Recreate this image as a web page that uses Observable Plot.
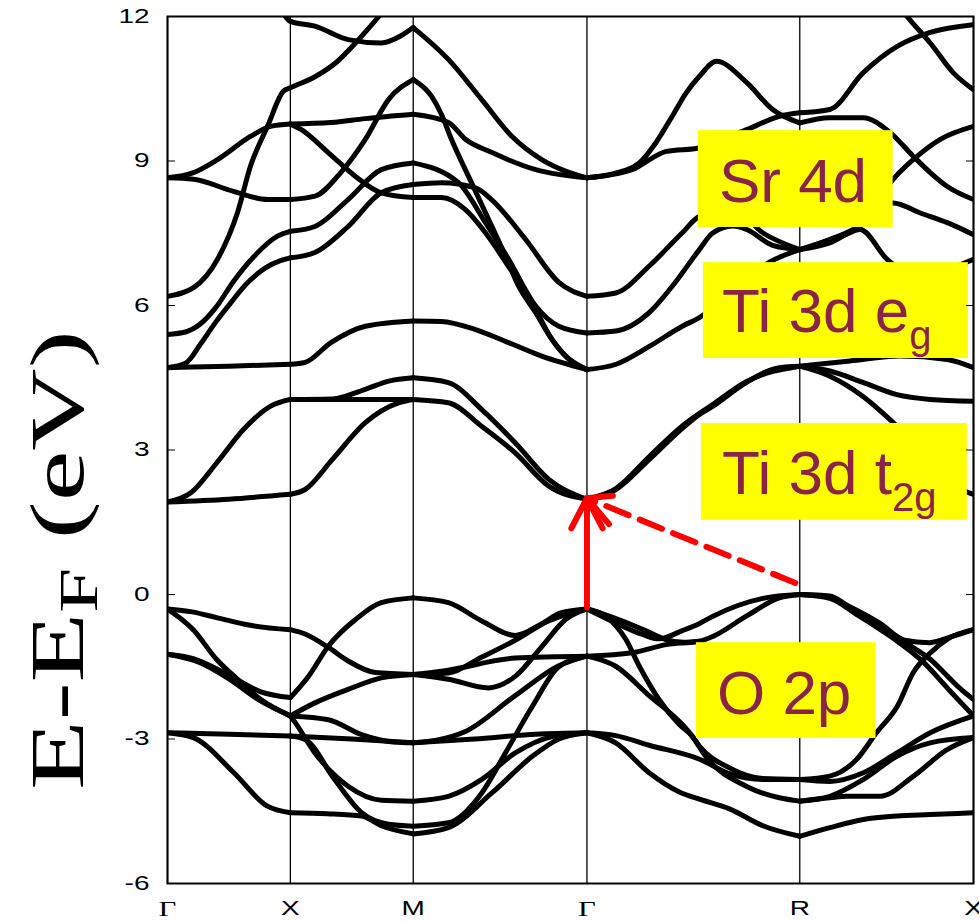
<!DOCTYPE html>
<html><head><meta charset="utf-8">
<script src="https://cdn.jsdelivr.net/npm/d3@7"></script>
<script src="https://cdn.jsdelivr.net/npm/@observablehq/plot@0.6"></script>
<style>body{margin:0;background:#fff}svg{display:block}</style>
</head><body><div id="chart"></div>
<script>
// high-symmetry points along the k-path (path length units)
const symLabels = ["Γ", "X", "M", "Γ", "R", "X"];
const symK = [0, 1, 2, 3.414, 5.146, 6.56];
const yTicks = [-6, -3, 0, 3, 6, 9, 12];

// O 2p valence bands: [k, E(eV)]
const bandsO2p = [
  [[0,-0.30],[0.2,-0.36],[0.4,-0.48],[0.675,-0.64],[1,-0.73]],
  [[0,-0.30],[0.21,-0.73],[0.40,-1.35],[0.57,-1.76],[0.76,-2.18],[1,-2.52]],
  [[0,-1.24],[0.21,-1.33],[0.49,-1.66],[0.76,-2.02],[1,-2.14]],
  [[0,-1.24],[0.25,-1.40],[0.5,-1.75],[0.75,-2.2],[1,-2.52]],
  [[0,-2.87],[0.5,-2.90],[1,-2.94]],
  [[0,-2.87],[0.21,-2.97],[0.54,-3.70],[0.81,-4.39],[1,-4.53]],
  [[1,-0.73],[1.12,-0.82],[1.31,-1.1],[1.47,-1.38],[1.69,-1.62],[2,-1.66]],
  [[1,-2.14],[1.15,-1.69],[1.31,-1.07],[1.53,-0.52],[1.74,-0.17],[2,-0.07]],
  [[1,-2.52],[1.2,-2.25],[1.47,-1.97],[1.74,-1.73],[2,-1.66]],
  [[1,-2.52],[1.31,-2.6],[1.58,-2.91],[1.8,-3.05],[2,-3.08]],
  [[1,-2.94],[1.5,-3.0],[2,-3.08]],
  [[1,-2.52],[1.04,-2.66],[1.2,-3.29],[1.47,-3.98],[1.74,-4.27],[2,-4.29]],
  [[1,-2.94],[1.12,-3.01],[1.36,-3.84],[1.58,-4.53],[1.8,-4.77],[2,-4.81]],
  [[1,-4.53],[1.3,-4.55],[1.58,-4.6],[1.74,-4.8],[2,-4.97]],
  [[2,-0.07],[2.286,-0.17],[2.558,-0.55],[2.83,-0.85],[3.05,-0.6],[3.2,-0.38],[3.414,-0.30]],
  [[2,-1.66],[2.286,-1.63],[2.558,-1.3],[2.83,-0.95],[3.1,-0.55],[3.414,-0.30]],
  [[2,-1.66],[2.286,-1.76],[2.613,-1.94],[2.83,-1.7],[3.05,-1.07],[3.24,-0.52],[3.414,-0.30]],
  [[2,-1.66],[2.26,-1.58],[2.83,-1.32],[3.414,-1.28]],
  [[2,-3.08],[2.2,-3.02],[2.42,-2.85],[2.83,-2.1],[3.185,-1.48],[3.414,-1.28]],
  [[2,-3.08],[2.5,-3.0],[3.0,-2.9],[3.414,-2.87]],
  [[2,-4.29],[2.286,-4.19],[2.558,-3.84],[2.83,-3.29],[3.13,-2.95],[3.414,-2.87]],
  [[2,-4.81],[2.286,-4.74],[2.558,-4.12],[2.75,-3.29],[2.97,-2.32],[3.185,-1.5],[3.414,-1.28]],
  [[2,-4.97],[2.286,-4.84],[2.64,-4.12],[2.97,-3.36],[3.185,-3.0],[3.414,-2.87]],
  [[3.414,-0.30],[3.648,-0.59],[3.866,-0.83],[4.0,-0.92],[4.19,-0.75],[4.33,-0.6],[4.44,-0.45],[4.846,-0.08],[5.146,0.0]],
  [[3.414,-1.28],[3.78,-1.21],[4.06,-1.04],[4.33,-0.97],[4.44,-0.87],[4.71,-0.45],[4.98,-0.07],[5.146,0.0]],
  [[3.414,-0.30],[3.65,-0.5],[3.9,-0.76],[4.05,-0.93],[4.2,-0.99],[4.33,-0.97]],
  [[3.414,-0.30],[3.567,-0.45],[3.73,-0.93],[3.84,-1.49],[4.0,-2.18],[4.166,-2.7],[4.27,-2.94],[4.33,-3.15],[4.574,-3.6],[4.846,-3.82],[5.146,-3.84]],
  [[3.414,-1.28],[3.648,-1.49],[3.92,-2.1],[4.19,-2.7],[4.27,-2.94],[4.38,-3.36],[4.71,-3.98],[4.98,-4.22],[5.146,-4.29]],
  [[3.414,-2.87],[3.648,-2.93],[3.92,-3.13],[4.33,-3.42],[4.574,-3.72],[4.846,-3.84],[5.146,-3.84]],
  [[3.414,-2.87],[3.648,-3.08],[3.92,-3.7],[4.166,-4.1],[4.33,-4.25],[4.574,-4.45],[4.846,-4.8],[5.146,-5.02]],
  [[5.146,0],[5.39,-0.03],[5.53,-0.22],[5.8,-0.6],[6.0,-0.95],[6.2,-1.0],[6.4,-0.86],[6.56,-0.73]],
  [[5.146,0],[5.39,-0.05],[5.53,-0.26],[5.8,-0.65],[6.07,-1.1],[6.21,-1.35],[6.35,-1.7],[6.45,-1.95],[6.56,-2.18]],
  [[5.146,0],[5.39,-0.08],[5.6,-0.4],[5.9,-0.9],[6.15,-1.4],[6.35,-1.95],[6.56,-2.52]],
  [[5.146,-3.84],[5.391,-3.77],[5.61,-3.42],[5.77,-2.87],[5.94,-2.32],[6.07,-1.62],[6.21,-1.21],[6.345,-0.93],[6.56,-0.73]],
  [[5.146,-3.84],[5.391,-3.88],[5.664,-3.70],[5.936,-3.29],[6.208,-2.87],[6.56,-2.52]],
  [[5.146,-4.29],[5.391,-4.19],[5.664,-3.84],[5.936,-3.36],[6.208,-3.08],[6.56,-2.97]],
  [[5.146,-4.29],[5.391,-4.22],[5.528,-4.19],[5.8,-4.19],[6.072,-3.77],[6.345,-3.22],[6.56,-2.97]],
  [[5.146,-5.02],[5.391,-4.84],[5.664,-4.67],[5.936,-4.6],[6.208,-4.57],[6.56,-4.53]]
];

// Ti 3d t2g conduction bands
const bandsT2g = [
  [[0,1.92],[0.19,2.11],[0.40,2.73],[0.62,3.43],[0.84,3.91],[1,4.05]],
  [[0,1.92],[0.5,1.98],[1,2.08]],
  [[1,4.05],[1.5,4.05],[2,4.05]],
  [[1,4.05],[1.34,4.06],[1.61,4.26],[1.8,4.43],[2,4.5]],
  [[1,2.08],[1.12,2.18],[1.34,2.8],[1.61,3.57],[1.88,3.98],[2,4.05]],
  [[2,4.5],[2.286,4.4],[2.558,3.84],[2.83,3.15],[3.103,2.39],[3.414,1.98]],
  [[2,4.05],[2.286,3.98],[2.558,3.49],[2.83,2.94],[3.103,2.25],[3.414,1.98]],
  [[3.414,1.98],[3.65,2.18],[3.92,2.8],[4.19,3.45],[4.33,3.74],[4.44,3.91],[4.71,4.4],[4.98,4.71],[5.146,4.74]],
  [[3.414,1.98],[3.65,2.2],[3.92,2.86],[4.19,3.5],[4.44,3.95],[4.71,4.42],[5.146,4.74]],
  [[5.146,4.74],[5.391,4.64],[5.664,4.4],[5.936,4.15],[6.208,4.05],[6.56,4.01]],
  [[5.146,4.74],[5.391,4.53],[5.661,4.11],[5.906,3.57],[6.21,2.8],[6.45,2.2],[6.56,2.08]]
];

// Ti 3d eg and Sr 4d bands
const bandsUpper = [
  [[0,4.71],[0.5,4.74],[1,4.78]],
  [[0,4.71],[0.146,4.8],[0.269,5.2],[0.391,5.65],[0.513,6.05],[0.651,6.47],[0.797,6.78],[0.919,6.93],[1,6.99]],
  [[0,5.40],[0.146,5.45],[0.269,5.62],[0.391,5.95],[0.537,6.5],[0.716,7.05],[0.895,7.44],[1,7.54]],
  [[0,6.19],[0.212,6.37],[0.407,6.96],[0.57,7.93],[0.675,8.89],[0.814,9.72],[0.944,10.45],[1,10.52],[1.2,10.75],[1.37,11.04],[1.53,11.45],[1.72,12.0],[1.85,12.4]],
  [[0,8.65],[0.212,8.76],[0.407,9.03],[0.675,9.51],[0.838,9.72],[1,9.77]],
  [[0,8.65],[0.212,8.62],[0.537,8.37],[0.814,8.20],[1,8.20]],
  [[0.9,12.3],[0.96,12.0],[1,11.9],[1.2,11.8],[1.47,11.52],[1.74,11.45],[1.9,11.6],[2,11.77]],
  [[1,9.77],[1.33,9.8],[1.61,9.88],[2,9.97]],
  [[1,9.77],[1.09,9.65],[1.31,9.17],[1.53,8.68],[1.74,8.34],[2,8.24]],
  [[1,8.20],[1.2,8.27],[1.41,8.76],[1.61,9.45],[1.8,10.28],[2,10.69]],
  [[1,7.54],[1.2,7.64],[1.47,8.2],[1.74,8.82],[2,8.96]],
  [[1,6.99],[1.2,7.1],[1.47,7.64],[1.74,8.34],[2,8.51]],
  [[1,4.78],[1.12,4.82],[1.33,5.23],[1.61,5.57],[2,5.68]],
  [[2,11.77],[2.286,11.11],[2.556,10.28],[2.8,9.52],[3.046,9.03],[3.25,8.78],[3.414,8.65]],
  [[2,9.97],[2.286,9.8],[2.425,9.45],[2.637,9.18],[2.997,8.82],[3.414,8.65]],
  [[2,10.69],[2.147,10.35],[2.229,9.97],[2.311,9.45],[2.474,8.55],[2.613,7.79],[2.752,7.02],[2.858,6.4],[2.997,5.85],[3.128,5.3],[3.242,4.95],[3.414,4.67]],
  [[2,8.96],[2.368,8.55],[2.588,7.72],[2.776,6.96],[2.997,5.99],[3.185,5.57],[3.414,5.43]],
  [[2,8.51],[2.229,8.55],[2.507,8.44],[2.637,8.2],[2.915,7.37],[3.185,6.48],[3.414,6.19]],
  [[2,8.24],[2.229,8.24],[2.425,7.99],[2.588,7.51],[2.776,6.81],[2.94,6.19],[3.128,5.3],[3.267,4.88],[3.414,4.67]],
  [[2,5.68],[2.229,5.67],[2.507,5.5],[2.776,5.23],[3.046,4.95],[3.414,4.67]],
  [[3.414,8.65],[3.6,8.72],[3.84,8.96],[3.975,9.38],[4.108,9.93],[4.22,10.41],[4.329,10.76],[4.468,11.07],[4.713,10.63],[4.925,10.07],[5.146,9.79]],
  [[3.414,8.65],[3.782,8.82],[4.06,9.2],[4.329,9.27],[4.713,9.65],[4.983,9.93],[5.146,10.0]],
  [[3.414,6.19],[3.648,6.26],[3.921,6.82],[4.19,7.51],[4.329,7.85],[4.6,8.0],[4.85,7.5],[5.146,7.16]],
  [[3.414,5.43],[3.65,5.47],[3.92,5.85],[4.108,6.4],[4.329,7.16],[4.435,7.5],[4.6,7.65],[4.713,7.58],[4.925,7.25],[5.146,7.16]],
  [[3.414,4.67],[3.651,4.78],[3.921,5.15],[4.19,5.57],[4.329,5.75],[4.6,6.3],[4.9,6.9],[5.146,7.16]],
  [[5.146,10.0],[5.391,10.07],[5.661,10.83],[5.939,11.38],[6.208,11.67],[6.56,11.83]],
  [[5.146,9.79],[5.391,9.9],[5.661,9.9],[5.882,9.59],[6.069,9.1],[6.208,8.76],[6.347,8.47],[6.56,8.2]],
  [[5.85,12.6],[6.02,12.0],[6.208,11.45],[6.396,10.83],[6.56,10.48]],
  [[5.146,7.16],[5.391,7.37],[5.636,7.64],[5.906,8.62],[6.102,9.1],[6.29,9.45],[6.56,9.72]],
  [[5.146,7.16],[5.391,7.3],[5.636,7.58],[5.857,6.96],[6.1,6.6],[6.35,6.75],[6.56,6.96]],
  [[5.146,7.16],[5.391,7.37],[5.636,7.66],[5.8,8.0],[5.906,8.13],[6.127,7.92],[6.347,7.72],[6.56,7.47]],
  [[5.146,4.74],[5.555,4.85],[5.963,4.95],[6.345,4.88],[6.56,4.71]]
];

// transition arrows (solid: direct at Γ, dashed: indirect R → Γ)
const arrowK1 = [3.414, 5.11];
const arrowE1 = [-0.27, 0.24];
const arrowK2 = [3.414, 3.414];
const arrowE2 = [2.0, 2.0];

// band character labels
const labelText = ["Sr 4d", "Ti 3d e", "Ti 3d t", "O 2p"];
const labelSub = ["", "g", "2g", ""];
const labelK = [4.492, 4.517, 4.517, 4.476];
const labelE = [8.14, 5.44, 2.08, -2.49];
const boxK1 = [4.321, 4.362, 4.345, 4.305];
const boxK2 = [5.906, 6.518, 6.510, 5.767];
const boxE1 = [7.62, 4.90, 1.54, -2.99];
const boxE2 = [9.63, 6.89, 3.55, -1.0];

const allBands = [...bandsO2p, ...bandsT2g, ...bandsUpper];
const rows = allBands.flatMap((b, i) => b.map(([k, e]) => ({k, e, band: i})));
const idx = d3.range(labelText.length);

const chart = Plot.plot({
  width: 979, height: 921,
  marginLeft: 167, marginRight: 6, marginTop: 16, marginBottom: 38,
  style: {fontFamily: "Liberation Sans, Arial, sans-serif", background: "#fff"},
  x: {domain: [0, 6.56]},
  y: {domain: [-6, 12]},
  marks: [
    Plot.ruleX(symK, {stroke: "black", strokeWidth: 1.3}),
    Plot.line(rows, {x: "k", y: "e", z: "band", stroke: "black", strokeWidth: 5, curve: "monotone-x", clip: true, strokeLinecap: "round"}),
    Plot.frame({stroke: "black", strokeWidth: 2}),
    Plot.rect(idx, {x1: i => boxK1[i], x2: i => boxK2[i], y1: i => boxE1[i], y2: i => boxE2[i], fill: "#ffff00"}),
    Plot.arrow([0], {x1: i => arrowK1[i], y1: i => arrowE1[i], x2: i => arrowK2[i], y2: i => arrowE2[i], stroke: "#ff0000", strokeWidth: 6, headLength: 8.5, headAngle: 55, strokeLinecap: "round"}),
    Plot.arrow([1], {x1: i => arrowK1[i], y1: i => arrowE1[i], x2: i => arrowK2[i], y2: i => arrowE2[i], stroke: "#ff0000", strokeWidth: 6, headLength: 8.5, headAngle: 55, strokeDasharray: "24,12"}),
    Plot.axisY(yTicks, {anchor: "left", tickSize: -8, tickPadding: 26, fontSize: 20, label: null, tickFormat: d => String(d)}),
    Plot.axisY(yTicks, {anchor: "right", tickSize: -8, tickFormat: () => "", label: null}),
    Plot.axisX(symK, {anchor: "bottom", tickSize: 0, tickPadding: 17, fontSize: 20, label: null,
      tickFormat: d => symLabels[symK.indexOf(d)]})
  ]
});
document.getElementById("chart").appendChild(chart);

const svg = d3.select(chart);

// widen the axis tick labels like the reference's stretched lettering
svg.selectAll('g[aria-label="y-axis tick label"] text, g[aria-label="x-axis tick label"] text').each(function() {
  if (this.textContent === "Γ") {
    this.setAttribute("font-family", "Liberation Serif, Times New Roman, serif");
    this.setAttribute("font-size", 22);
  }
  const w = this.getComputedTextLength();
  if (w > 0) {
    this.setAttribute("textLength", (w * 1.4).toFixed(1));
    this.setAttribute("lengthAdjust", "spacingAndGlyphs");
  }
});

const sx = chart.scale("x"), sy = chart.scale("y");
const X = sx.apply ? (v => sx.apply(v)) : d3.scaleLinear(sx.domain, sx.range);
const Y = sy.apply ? (v => sy.apply(v)) : d3.scaleLinear(sy.domain, sy.range);
const labelColor = "#8a2346";
idx.forEach(i => {
  const t = svg.append("text")
    .attr("x", X(labelK[i])).attr("y", Y(labelE[i]))
    .attr("text-anchor", "start")
    .attr("font-family", "Liberation Sans, Arial, sans-serif")
    .attr("font-size", 62).attr("fill", labelColor);
  t.append("tspan").text(labelText[i]);
  if (labelSub[i]) t.append("tspan").attr("font-size", 40).attr("dy", 17).text(labelSub[i]);
});

// y-axis title E-E_F (eV)
const yt = svg.append("text")
  .attr("transform", `translate(${167 - 84},790) rotate(-90) scale(1.5,1)`)
  .attr("text-anchor", "start")
  .attr("font-family", "Liberation Serif, Times New Roman, serif")
  .attr("font-size", 76).attr("fill", "black");
yt.append("tspan").text("E-E");
yt.append("tspan").attr("font-size", 54).attr("dy", 14).text("F");
yt.append("tspan").attr("dy", -14).text(" (eV)");
</script>
</body></html>
